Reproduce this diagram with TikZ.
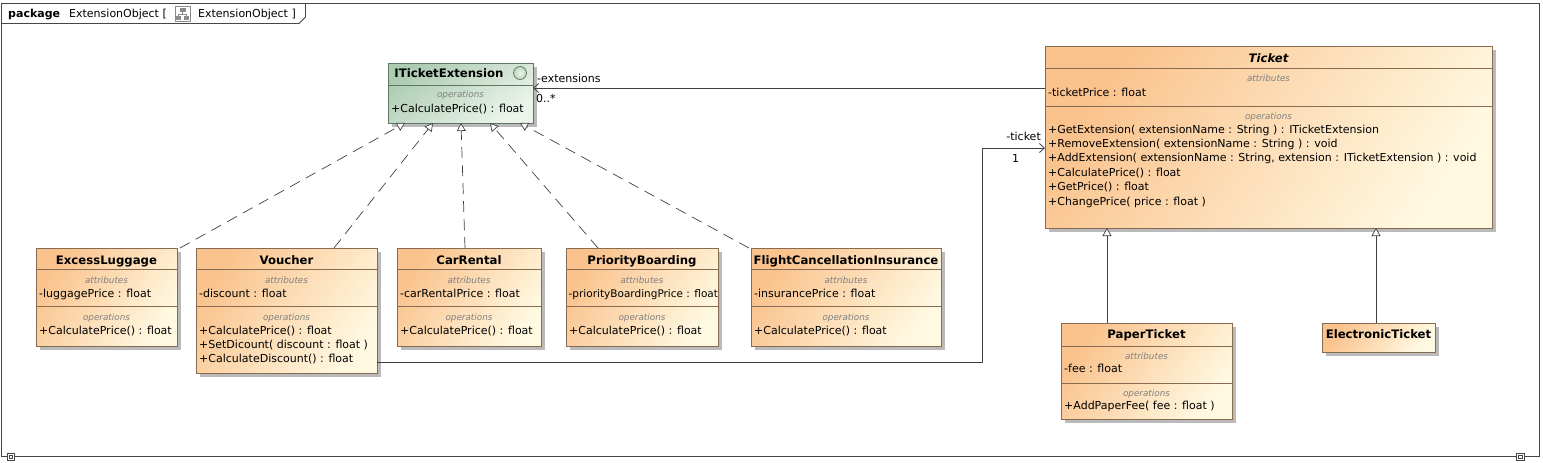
\documentclass[tikz,border=0pt]{standalone}
\usepackage{fontspec}
\setmainfont{DejaVu Sans}
\usetikzlibrary{arrows.meta,shadows,calc}
\definecolor{clsDark}{RGB}{250,194,140}
\definecolor{clsLight}{RGB}{255,249,226}
\definecolor{clsLine}{RGB}{135,108,82}
\definecolor{ifDark}{RGB}{172,204,178}
\definecolor{ifLight}{RGB}{236,244,236}
\definecolor{ifLine}{RGB}{92,120,98}
\definecolor{labGray}{RGB}{128,128,128}
\definecolor{edgeCol}{RGB}{64,64,64}
\definecolor{frameCol}{RGB}{70,70,70}
\newcommand\ftxt{\fontsize{11}{13}\selectfont}
\newcommand\fsmall{\fontsize{8.8}{10}\selectfont\itshape}
\newcommand\fname{\fontsize{11.7}{14}\selectfont\bfseries}
\begin{document}
\begin{tikzpicture}[x=1pt,y=-1pt,
  shadowed/.style={drop shadow={shadow xshift=4pt,shadow yshift=-4pt,fill=black!45,opacity=0.6}},
  cbox/.style={rectangle,draw=clsLine,line width=0.8pt,anchor=north west,inner sep=0pt,outer sep=0pt,
     top color=clsDark,bottom color=clsLight,shading angle=55,shadowed},
  ibox/.style={rectangle,draw=ifLine,line width=0.8pt,anchor=north west,inner sep=0pt,outer sep=0pt,
     top color=ifDark,bottom color=ifLight,shading angle=35,shadowed},
  csep/.style={draw=clsLine,line width=0.7pt},
  isep/.style={draw=ifLine,line width=0.7pt},
  txt/.style={anchor=base west,inner sep=0pt,font=\ftxt},
  lab/.style={anchor=base,inner sep=0pt,font=\fsmall,text=labGray},
  cname/.style={anchor=base,inner sep=0pt,font=\fname},
  real/.style={draw=edgeCol,line width=0.7pt,dash pattern=on 11pt off 7pt,
     -{Triangle[length=8pt,width=9pt,fill=white,line width=0.7pt]}},
  gen/.style={draw=edgeCol,line width=0.8pt,
     -{Triangle[length=8pt,width=9pt,fill=white,line width=0.7pt]}},
  assoc/.style={draw=edgeCol,line width=0.8pt,-{Straight Barb[length=5pt,width=9pt]}}
]
\useasboundingbox (0,0) rectangle (1543,463);

% package frame
\draw[frameCol,line width=0.8pt] (1.5,3.5) rectangle (1539.5,456.5);
\draw[frameCol,line width=0.8pt] (1.5,23.5) -- (299,23.5) -- (305.5,17) -- (305.5,3.5);
\node[anchor=base west,inner sep=0pt,font=\fontsize{11}{13}\selectfont\bfseries] (pk) at (8,17.5) {package};
\node[txt] (pkn) at (69,17.5) {ExtensionObject [};
\node[draw=black!45,fill=white,minimum width=15pt,minimum height=15pt,inner sep=0pt,anchor=north west] (icon) at (174.5,5.5) {};
\fill[black!45] (179.5,8) rectangle (185.5,12);
\draw[black!45,line width=0.6pt] (182.5,12) -- (182.5,14) (178.5,14) -- (186.5,14) (178.5,14) -- (178.5,16) (186.5,14) -- (186.5,16);
\fill[black!45] (176,16) rectangle (181,19.5);
\fill[black!45] (184,16) rectangle (189,19.5);
\node[txt] (pkm) at (198,17.5) {ExtensionObject ]};

% corner handles
\draw[frameCol,line width=0.6pt,fill=white] (7,453.5) rectangle (14,460.5);
\draw[frameCol,line width=0.5pt] (9,455.5) rectangle (12,458.5);
\draw[frameCol,line width=0.6pt,fill=white] (1516.5,453.5) rectangle (1524,460.5);
\draw[frameCol,line width=0.5pt] (1518.5,455.5) rectangle (1522,458.5);

% ITicketExtension
\node[ibox,minimum width=145pt,minimum height=60pt] (ite) at (388,63) {};
\node[cname] (itename) at (449,77.5) {ITicketExtension};
\draw[ifLine,line width=0.7pt,inner color=ifLight,outer color=ifDark!80] (520,73) circle (6.5pt);
\draw[isep] (388,85) -- (533,85);
\node[lab] at (460.5,97.5) {operations};
\node[txt] at (391,112) {+CalculatePrice() : float};

% Ticket
\node[cbox,minimum width=447pt,minimum height=182pt] (ticket) at (1045,46) {};
\node[cname,font=\fname\itshape] at (1268.5,62) {Ticket};
\draw[csep] (1045,68) -- (1492,68);
\node[lab] at (1268.5,81) {attributes};
\node[txt] at (1048,96) {-ticketPrice : float};
\draw[csep] (1045,106) -- (1492,106);
\node[lab] at (1268.5,119.5) {operations};
\node[txt] at (1048,133) {+GetExtension( extensionName : String ) : ITicketExtension};
\node[txt] at (1048,147.4) {+RemoveExtension( extensionName : String ) : void};
\node[txt] at (1048,161.8) {+AddExtension( extensionName : String, extension : ITicketExtension ) : void};
\node[txt] at (1048,176.2) {+CalculatePrice() : float};
\node[txt] at (1048,190.6) {+GetPrice() : float};
\node[txt] at (1048,205) {+ChangePrice( price : float )};

% ExcessLuggage
\node[cbox,minimum width=141pt,minimum height=98pt] (el) at (36,248) {};
\node[cname] at (106.5,264) {ExcessLuggage};
\draw[csep] (36,269) -- (177,269);
\node[lab] at (106.5,283.5) {attributes};
\node[txt] at (39,297) {-luggagePrice : float};
\draw[csep] (36,306) -- (177,306);
\node[lab] at (106.5,320.5) {operations};
\node[txt] at (39,334) {+CalculatePrice() : float};

% Voucher
\node[cbox,minimum width=181pt,minimum height=125pt] (v) at (196,248) {};
\node[cname] at (286.5,264) {Voucher};
\draw[csep] (196,269) -- (377,269);
\node[lab] at (286.5,283.5) {attributes};
\node[txt] at (199,297) {-discount : float};
\draw[csep] (196,306) -- (377,306);
\node[lab] at (286.5,320.5) {operations};
\node[txt] at (199,334) {+CalculatePrice() : float};
\node[txt] at (199,348) {+SetDicount( discount : float )};
\node[txt] at (199,362) {+CalculateDiscount() : float};

% CarRental
\node[cbox,minimum width=144pt,minimum height=98pt] (cr) at (397,248) {};
\node[cname] at (469,264) {CarRental};
\draw[csep] (397,269) -- (541,269);
\node[lab] at (469,283.5) {attributes};
\node[txt] at (400,297) {-carRentalPrice : float};
\draw[csep] (397,306) -- (541,306);
\node[lab] at (469,320.5) {operations};
\node[txt] at (400,334) {+CalculatePrice() : float};

% PriorityBoarding
\node[cbox,minimum width=152pt,minimum height=98pt] (pb) at (566,248) {};
\node[cname] at (642,264) {PriorityBoarding};
\draw[csep] (566,269) -- (718,269);
\node[lab] at (642,283.5) {attributes};
\node[txt,font=\fontsize{10.5}{13}\selectfont] at (568.5,297) {-priorityBoardingPrice : float};
\draw[csep] (566,306) -- (718,306);
\node[lab] at (642,320.5) {operations};
\node[txt] at (569,334) {+CalculatePrice() : float};

% FlightCancellationInsurance
\node[cbox,minimum width=190pt,minimum height=98pt] (fci) at (751,248) {};
\node[cname] at (846,264) {FlightCancellationInsurance};
\draw[csep] (751,269) -- (941,269);
\node[lab] at (846,283.5) {attributes};
\node[txt] at (754,297) {-insurancePrice : float};
\draw[csep] (751,306) -- (941,306);
\node[lab] at (846,320.5) {operations};
\node[txt] at (754,334) {+CalculatePrice() : float};

% PaperTicket
\node[cbox,minimum width=171pt,minimum height=96pt] (pt) at (1061,323) {};
\node[cname] at (1146.5,338) {PaperTicket};
\draw[csep] (1061,346) -- (1232,346);
\node[lab] at (1146.5,359.5) {attributes};
\node[txt] at (1064,372) {-fee : float};
\draw[csep] (1061,383) -- (1232,383);
\node[lab] at (1146.5,396.5) {operations};
\node[txt] at (1064,409) {+AddPaperFee( fee : float )};

% ElectronicTicket
\node[cbox,minimum width=113pt,minimum height=29pt] (et) at (1322,323) {};
\node[cname] at (1378.5,338) {ElectronicTicket};

% realizations
\draw[real] ($(el.north east)+(3,0)$) -- ($(ite.south west)+(17,0)$);
\draw[real] ($(v.north west)+(138,0)$) -- ($(ite.south west)+(45,0)$);
\draw[real] ($(cr.north west)+(68,0)$) -- ($(ite.south west)+(73,0)$);
\draw[real] ($(pb.north west)+(32,0)$) -- ($(ite.south west)+(102,0)$);
\draw[real] ($(fci.north west)+(-2,0)$) -- ($(ite.south west)+(132,0)$);

% generalizations
\draw[gen] ($(pt.north west)+(46,0)$) -- ($(ticket.south west)+(62,0)$);
\draw[gen] ($(et.north west)+(54,0)$) -- ($(ticket.south west)+(331,0)$);

% associations
\draw[assoc] ($(ticket.north west)+(0,42)$) -- ($(ite.north east)+(0,25)$);
\node[txt] (extl) at (537,82) {-extensions};
\node[txt] (extm) at (536,102) {0..*};
\draw[assoc] ($(v.north east)+(0,114)$) -| ($(ticket.north west)+(-63,102)$) -- ($(ticket.north west)+(0,102)$);
\node[anchor=base east,inner sep=0pt,font=\ftxt] (tkl) at (1041,140) {-ticket};
\node[txt] (tkm) at (1012,162) {1};
\end{tikzpicture}
\end{document}
